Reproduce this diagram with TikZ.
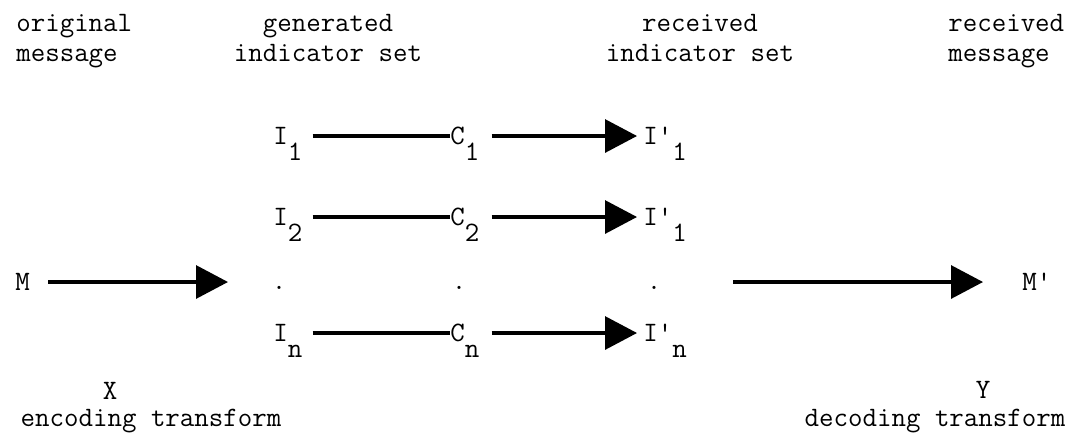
\documentclass[tikz,border=0pt]{standalone}
\usepackage{fontspec}
\usetikzlibrary{arrows.meta}
\newcommand{\lowr}[1]{\smash{\raisebox{-1.3ex}{#1}}}

\begin{document}
\begin{tikzpicture}[x=0.02cm,y=-0.02cm,
        font=\ttfamily\fontsize{16}{17}\selectfont, inner sep=0pt,
        sig/.style={line width=1.8pt, shorten <=0.2cm},
        tip/.style={line width=1.8pt, shorten <=0.24cm, -{Triangle[length=0.64cm,width=0.66cm]}}]
        \useasboundingbox (0,0) rectangle (1087,434);
        \node[anchor=north west, align=left] (orig) at (16,14) {original\\message};
        \node[anchor=north, align=center] (gset) at (328,14) {generated\\indicator set};
        \node[anchor=north, align=center] (rset) at (700,14) {received\\indicator set};
        \node[anchor=north west, align=left] (rmsg) at (948,14) {received\\message};
        \node[anchor=west] (i1) at (273,136) {I\lowr{1}};
        \node[anchor=west] (c1) at (450,136) {C\lowr{1}};
        \node[anchor=west] (r1) at (643,136) {I'\lowr{1}};
        \node[anchor=west] (i2) at (273,217) {I\lowr{2}};
        \node[anchor=west] (c2) at (450,217) {C\lowr{2}};
        \node[anchor=west] (r2) at (643,217) {I'\lowr{1}};
        \node[anchor=base] (d1) at (279,289) {.};
        \node[anchor=base] (d2) at (459,289) {.};
        \node[anchor=base] (d3) at (654,289) {.};
        \node[anchor=west] (in) at (273,333) {I\lowr{n}};
        \node[anchor=west] (cn) at (450,333) {C\lowr{n}};
        \node[anchor=west] (rn) at (643,333) {I'\lowr{n}};
        \draw[sig] (i1) -- (c1);
        \draw[sig] (i2) -- (c2);
        \draw[sig] (in) -- (cn);
        \draw[tip, shorten >=0.12cm] (c1) -- (r1);
        \draw[tip, shorten >=0.12cm] (c2) -- (r2);
        \draw[tip, shorten >=0.12cm] (cn) -- (rn);
        \node[anchor=west] (m) at (15,282) {M};
        \coordinate (gen) at (228,282);
        \draw[tip, shorten <=0.36cm] (m) -- (gen);
        \node[anchor=west] (mr) at (1022,282) {M'};
        \coordinate (dec) at (733,282);
        \draw[tip, shorten <=0pt, shorten >=0.78cm] (dec) -- (mr);
        \node[anchor=base] (xt) at (110,399) {X};
        \node[anchor=base] (enc) at (151,426) {encoding transform};
        \node[anchor=base] (yt) at (983,398) {Y};
        \node[anchor=base] (dco) at (935,426) {decoding transform};
    \end{tikzpicture}
\end{document}
